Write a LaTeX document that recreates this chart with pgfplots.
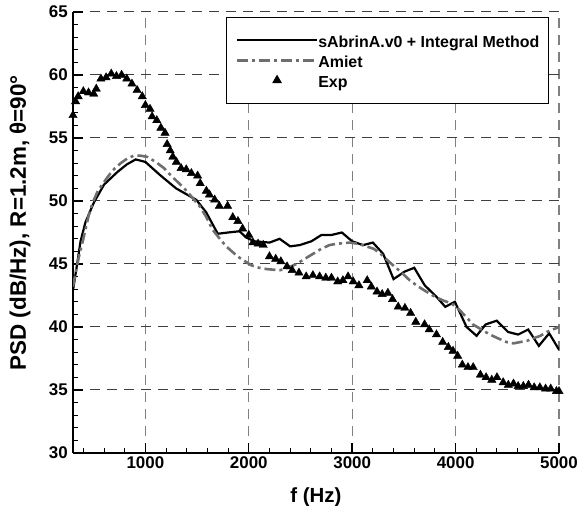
\documentclass[border=0pt]{standalone}
\usepackage{pgfplots}
\pgfplotsset{compat=1.18}
\usepackage{fontspec}
\setmainfont{Liberation Sans}
\definecolor{amietgray}{HTML}{6E6E6E}
\pgfplotsset{
  longline/.style={legend image code/.code={\draw[##1] (0bp,0bp) -- (80bp,0bp);}},
  midmark/.style={legend image code/.code={\draw[mark repeat=2,mark phase=2,##1] plot coordinates {(0bp,0bp) (40bp,0bp) (80bp,0bp)};}},
}
\begin{document}
\begin{tikzpicture}
\begin{axis}[
  at={(73bp,53bp)}, anchor=south west,
  width=486bp, height=441bp, scale only axis,
  xmin=300, xmax=5000, ymin=30, ymax=65,
  axis lines=left,
  axis line style={-, line width=1.8bp, black},
  xtick={1000,2000,3000,4000,5000},
  ytick={30,35,40,45,50,55,60,65},
  minor xtick={400,600,800,1200,1400,1600,1800,2200,2400,2600,2800,3200,3400,3600,3800,4200,4400,4600,4800},
  minor ytick={31,32,33,34,36,37,38,39,41,42,43,44,46,47,48,49,51,52,53,54,56,57,58,59,61,62,63,64},
  tick align=inside,
  major tick length=10bp, minor tick length=5bp,
  major tick style={line width=1.4bp, black},
  minor tick style={line width=1bp, black},
  grid=major,
  x grid style={gray, line width=1.3bp, dash pattern=on 10bp off 7bp},
  y grid style={black!75, line width=1bp, dash pattern=on 10bp off 7bp},
  /pgf/number format/assume math mode=true,
  /pgf/number format/1000 sep={},
  xticklabel style={font=\fontsize{17}{17}\selectfont\bfseries, inner sep=0pt, yshift=-3bp},
  yticklabel style={font=\fontsize{17}{17}\selectfont\bfseries, inner sep=0pt, xshift=-5bp},
  xlabel={f (Hz)},
  ylabel={PSD (dB/Hz), R=1.2m, θ=90°},
  xlabel style={at={(axis description cs:0.5,-0.0771)}, anchor=north, inner sep=0pt, font=\fontsize{20.5}{20.5}\selectfont\bfseries},
  ylabel style={at={(axis description cs:-0.087,0.522)}, anchor=south, inner sep=0pt, font=\fontsize{22.5}{22.5}\selectfont\bfseries},
  legend cell align=left,
  legend style={at={(axis description cs:0.979,0.989)}, anchor=north east,
    draw=black, line width=0.9bp, fill=white,
    font=\fontsize{16}{16}\selectfont\bfseries,
    inner xsep=9bp, inner ysep=12bp, row sep=-2bp,
    nodes={inner sep=0pt, text height=18bp, text depth=4bp},
    /tikz/every even column/.append style={column sep=12bp}},
]
\addplot[black, line width=2.2bp, longline] coordinates {
(300,42.9) (340,45.0) (373,46.8) (420,48.3) (503,49.9) (600,51.3) (729,52.3)
(820,52.9) (906,53.3) (1000,53.1) (1136,52.1) (1297,51.0) (1491,50.1) (1588,49.1)
(1700,47.4) (1800,47.5) (1910,47.6) (1975,47.1) (2056,46.8) (2201,46.7) (2298,47.0)
(2400,46.4) (2492,46.5) (2605,46.8) (2702,47.3) (2798,47.3) (2900,47.5) (3000,46.8)
(3105,46.5) (3200,46.7) (3300,45.8) (3400,43.8) (3508,44.4) (3600,44.7) (3702,43.3)
(3815,42.4) (3900,41.6) (3993,42.0) (4106,40.0) (4203,39.3) (4290,40.2) (4397,40.5)
(4509,39.6) (4605,39.4) (4702,39.8) (4805,38.5) (4905,39.5) (5000,38.2)
};
\addlegendentry{sAbrinA.v0 + Integral Method}
\addplot[amietgray, line width=2.6bp, dash pattern=on 11bp off 4bp on 3bp off 4bp, longline] coordinates {
(300,43.2) (330,44.5) (358,45.6) (400,47.0) (450,48.8) (487,49.8) (540,50.8) (600,51.5)
(680,52.4) (761,53.0) (830,53.4) (890,53.6) (950,53.6) (1019,53.5) (1100,53.1)
(1181,52.6) (1250,52.0) (1326,51.4) (1400,50.8) (1471,50.1) (1523,49.6) (1584,48.8)
(1652,47.7) (1720,47.0) (1781,46.4) (1850,45.9) (1910,45.5) (2023,44.9) (2100,44.7)
(2169,44.6) (2298,44.5) (2380,44.7) (2460,45.0) (2540,45.4) (2620,45.8) (2700,46.2)
(2780,46.5) (2847,46.6) (2976,46.7) (3060,46.6) (3137,46.4) (3210,46.2) (3276,45.8)
(3340,45.3) (3395,44.9) (3480,44.3) (3557,43.7) (3640,43.2) (3719,42.8) (3800,42.4)
(3880,42.1) (3950,41.9) (4009,41.6) (4090,40.9) (4169,40.2) (4250,39.8) (4332,39.4)
(4410,39.1) (4494,38.8) (4560,38.7) (4622,38.8) (4690,38.9) (4751,39.1) (4820,39.3)
(4880,39.6) (4940,39.8) (5000,40.0)
};
\addlegendentry{Amiet}
\addplot[only marks, mark=triangle*, mark size=4.8bp, black, midmark] coordinates {
(300,56.8) (325,57.9) (350,58.3) (400,58.7) (450,58.6) (500,58.5) (525,58.9) (570,59.7)
(620,59.8) (670,60.1) (720,59.9) (770,60.0) (820,59.7) (870,59.3) (920,58.8) (970,58.3)
(1000,57.6) (1045,57.3) (1065,56.7) (1110,56.4) (1150,55.8) (1190,55.4) (1210,54.5)
(1240,54.0) (1265,53.5) (1300,53.1) (1345,52.6) (1395,52.5) (1445,52.2) (1505,52.0)
(1530,51.4) (1590,50.8) (1620,50.5) (1670,50.1) (1715,49.6) (1795,49.6) (1845,48.7)
(1895,48.4) (1940,47.8) (2000,47.3) (2040,46.7) (2090,46.6) (2140,46.5) (2200,45.6)
(2260,45.4) (2310,45.2) (2370,44.8) (2420,44.5) (2485,44.3) (2555,44.0) (2620,44.1)
(2685,44.0) (2745,43.9) (2800,43.9) (2860,43.6) (2910,43.7) (2960,44.0) (3010,43.6)
(3065,43.3) (3145,43.7) (3185,43.2) (3240,42.8) (3290,42.6) (3345,42.7) (3390,42.2)
(3445,41.6) (3510,41.5) (3565,41.1) (3615,40.4) (3700,40.2) (3745,39.8) (3815,39.4)
(3875,38.8) (3930,38.4) (3975,38.1) (4020,37.7) (4065,37.0) (4120,36.8) (4170,36.8)
(4240,36.2) (4295,36.0) (4350,35.8) (4400,36.0) (4460,35.6) (4510,35.4) (4560,35.5)
(4605,35.3) (4655,35.3) (4705,35.4) (4760,35.2) (4815,35.2) (4870,35.1) (4920,35.1)
(4975,34.9) (5000,34.9)
};
\addlegendentry{Exp}
\end{axis}
\pgfresetboundingbox
\useasboundingbox (0bp,0bp) rectangle (577bp,506bp);
\end{tikzpicture}
\end{document}
